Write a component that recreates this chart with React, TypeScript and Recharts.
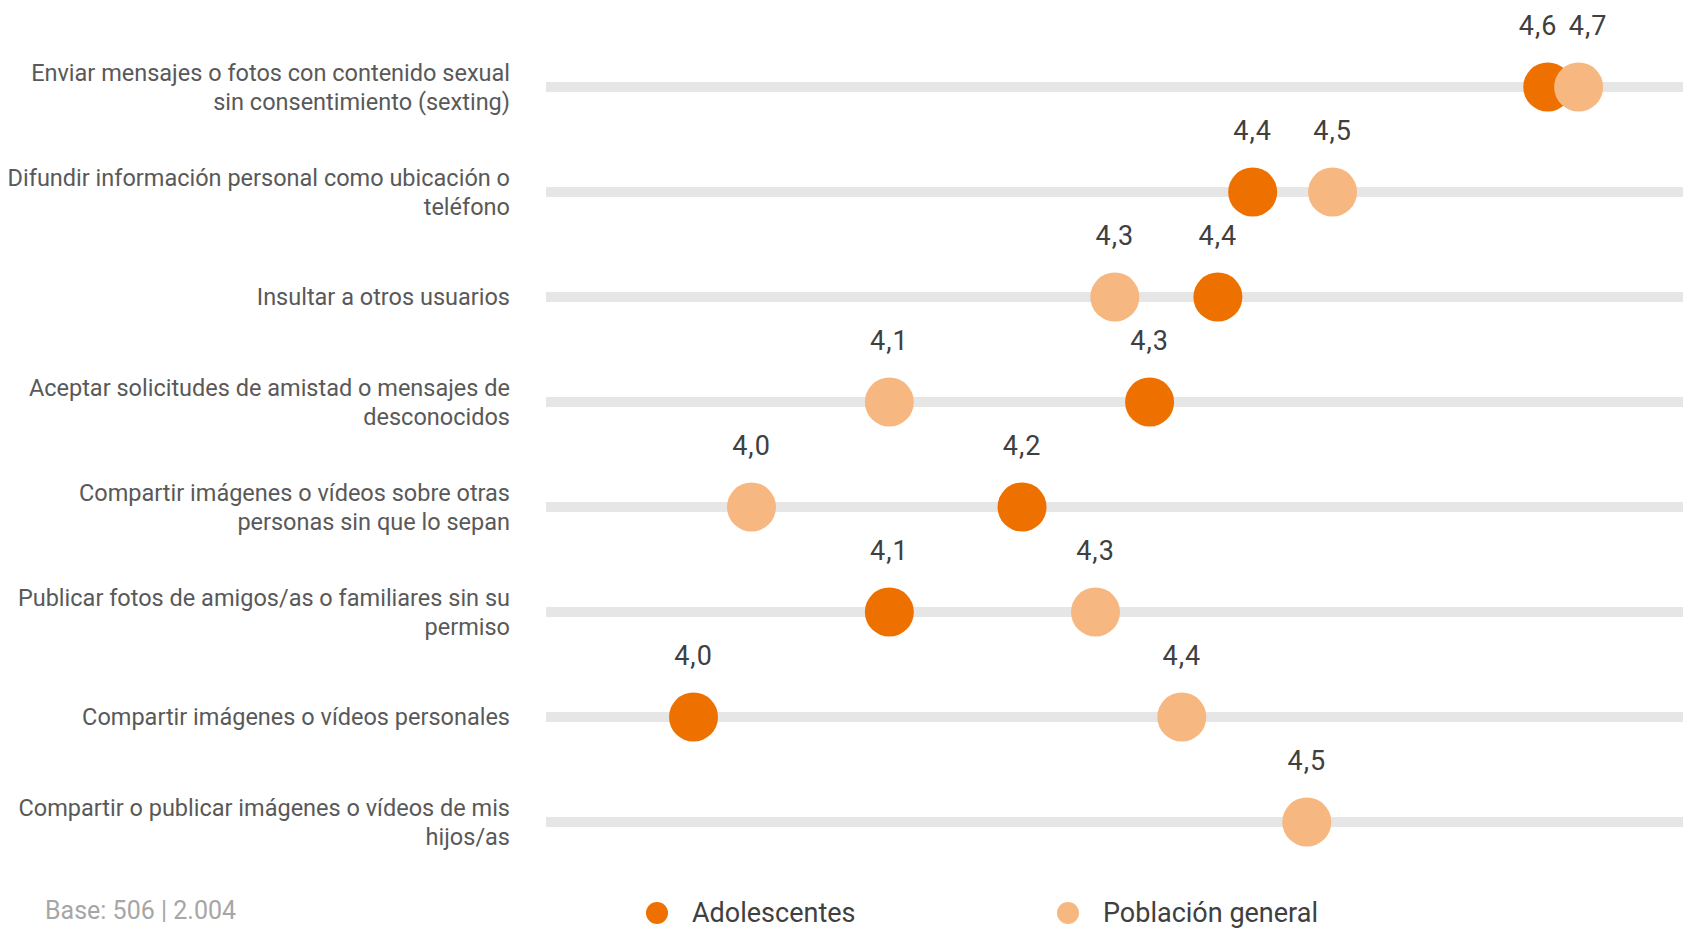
import React from "react";
import {
    ComposedChart,
    Scatter,
    XAxis,
    YAxis,
    ReferenceLine,
    Legend,
} from "recharts";

if (typeof document !== "undefined") document.body.style.margin = "0";

// rows, top to bottom ("\n" marks the line break of the original label)
const categories = [
    "Enviar mensajes o fotos con contenido sexual\nsin consentimiento (sexting)",
    "Difundir información personal como ubicación o\nteléfono",
    "Insultar a otros usuarios",
    "Aceptar solicitudes de amistad o mensajes de\ndesconocidos",
    "Compartir imágenes o vídeos sobre otras\npersonas sin que lo sepan",
    "Publicar fotos de amigos/as o familiares sin su\npermiso",
    "Compartir imágenes o vídeos personales",
    "Compartir o publicar imágenes o vídeos de mis\nhijos/as",
];
const adolescentes = [4.644, 4.415, 4.388, 4.335, 4.236, 4.133, 3.981, null];
const poblacion = [4.668, 4.477, 4.308, 4.133, 4.026, 4.293, 4.36, 4.457];

const W = 1683;
const H = 928;
const AXIS_W = 546;
const LEGEND_H = 30;
const DOMAIN: [number, number] = [3.8665, 4.749];
const PX_PER_UNIT = (W - AXIS_W) / (DOMAIN[1] - DOMAIN[0]);

const ORANGE = "#EE7100";
const PEACH = "#F6B880";

const rows = categories.map((category, i) => ({
    category,
    adol: adolescentes[i],
    pob: poblacion[i],
}));

const fmt = (v: number) => v.toFixed(1).replace(".", ",");

const CatTick = (props: any) => {
    const { x, y, payload } = props;
    const lines = String(payload.value).split("\n");
    const lh = 29;
    const start = -((lines.length - 1) * lh) / 2;
    return (
        <text
            x={x}
            y={y}
            textAnchor="end"
            fill="#595959"
            fontSize={23.5}
            fontFamily="Roboto, sans-serif"
        >
            {lines.map((l, i) => (
                <tspan key={i} x={x} dy={i === 0 ? start + 8 : lh}>
                    {l}
                </tspan>
            ))}
        </text>
    );
};

// dot + value label; labels of close pairs are pushed apart a little
const makeShape = (key: "adol" | "pob", color: string) => (props: any) => {
    const { cx, cy, payload } = props;
    const v = payload[key];
    if (v == null) return <g />;
    const other = key === "adol" ? payload.pob : payload.adol;
    let dx = 0;
    if (other != null) {
        const gap = Math.abs(v - other) * PX_PER_UNIT;
        if (gap < 50) {
            const dir = v < other ? -1 : 1;
            dx = (dir * (50 - gap)) / 2;
        }
    }
    return (
        <g>
            <circle cx={cx} cy={cy} r={24.5} fill={color} />
            <text
                x={cx + dx}
                y={cy - 52}
                textAnchor="middle"
                fill="#404040"
                fontSize={27}
                letterSpacing={1}
                fontFamily="Roboto, sans-serif"
            >
                {fmt(v)}
            </text>
        </g>
    );
};

const renderLegend = (props: any) => {
    const { payload } = props;
    return (
        <div style={{ position: "relative", height: LEGEND_H }}>
            {(payload || []).map((p: any, i: number) => (
                <div
                    key={p.value}
                    style={{
                        position: "absolute",
                        left: 646 + i * 411,
                        top: 0,
                        display: "flex",
                        alignItems: "center",
                        height: LEGEND_H,
                    }}
                >
                    <span
                        style={{
                            width: 22,
                            height: 22,
                            borderRadius: "50%",
                            background: p.color,
                            display: "inline-block",
                        }}
                    />
                    <span
                        style={{
                            marginLeft: 24,
                            fontSize: 27,
                            lineHeight: LEGEND_H + "px",
                            color: "#404040",
                            fontFamily: "Roboto, sans-serif",
                        }}
                    >
                        {p.value}
                    </span>
                </div>
            ))}
        </div>
    );
};

export default function App() {
    return (
        <div style={{ position: "relative", width: W, height: H, overflow: "hidden", background: "#fff" }}>
            <ComposedChart
                width={W}
                height={H}
                data={rows}
                layout="vertical"
                margin={{ top: 87, right: 0, bottom: H - 822 - LEGEND_H, left: 0 }}
            >
                <XAxis type="number" domain={DOMAIN} hide allowDataOverflow />
                <YAxis
                    type="category"
                    dataKey="category"
                    width={AXIS_W}
                    axisLine={false}
                    tickLine={false}
                    tickSize={0}
                    tickMargin={36}
                    interval={0}
                    tick={<CatTick />}
                />
                {categories.map((c) => (
                    <ReferenceLine key={c} y={c} stroke="#E6E6E6" strokeWidth={10} ifOverflow="visible" />
                ))}
                <Scatter
                    name="Adolescentes"
                    dataKey="adol"
                    fill={ORANGE}
                    isAnimationActive={false}
                    shape={makeShape("adol", ORANGE)}
                />
                <Scatter
                    name="Población general"
                    dataKey="pob"
                    fill={PEACH}
                    isAnimationActive={false}
                    shape={makeShape("pob", PEACH)}
                />
                <Legend
                    content={renderLegend}
                    wrapperStyle={{ position: "absolute", left: 0, top: 898, width: W, bottom: "auto" }}
                />
            </ComposedChart>
            <div
                style={{
                    position: "absolute",
                    left: 45,
                    top: 896,
                    fontSize: 25,
                    color: "#A6A6A6",
                    fontFamily: "Roboto, sans-serif",
                    lineHeight: "30px",
                }}
            >
                Base: 506 | 2.004
            </div>
        </div>
    );
}
